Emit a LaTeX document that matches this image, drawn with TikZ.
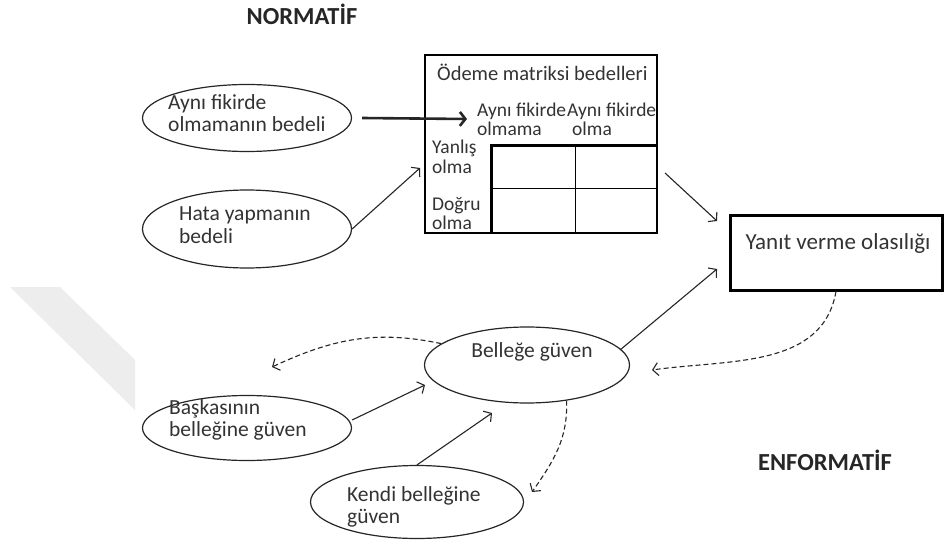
\documentclass[tikz,border=0pt]{standalone}
\usepackage{fontspec}
\setmainfont{Carlito}
\usetikzlibrary{arrows.meta,shapes.geometric}
\begin{document}
\begin{tikzpicture}[x=1pt,y=1pt,
  ell/.style={draw=black!85, ellipse, line width=1.2pt, inner sep=0pt},
  etxt/.style={inner sep=0pt, anchor=west, align=left, text=black!80, font=\fontsize{21.5}{22.5}\selectfont},
  mtxt/.style={inner sep=0pt, anchor=west, align=left, text=black!80, font=\fontsize{19.5}{19.5}\selectfont},
  arr/.style={-{Straight Barb[length=5.5pt,width=13pt]}, line width=1.1pt, draw=black!85},
  darr/.style={arr, dash pattern=on 5pt off 3pt},
  hdr/.style={inner sep=0pt, text=black!85, font=\bfseries\fontsize{24.5}{26}\selectfont}]
\useasboundingbox (0,0) rectangle (944,547);
\fill[white] (0,0) rectangle (944,547);
% watermark
\fill[black!7] (10,260) -- (60,260) -- (135,187) -- (135,137) -- cycle;
% headers
\node[hdr] (hn) at (302,533) {NORMATİF};
\node[hdr] (he) at (825,87) {ENFORMATİF};
% matrix
\node[draw, line width=2pt, minimum width=232pt, minimum height=178pt, inner sep=0pt] (mat) at (541,403) {};
\draw[line width=3pt] (491,314) -- (491,401) -- (657,401);
\draw[line width=1pt] (575,401) -- (575,314);
\draw[line width=1pt] (491,358) -- (657,358);
\node[mtxt, font=\fontsize{20.5}{20.5}\selectfont] (mt) at (437,475) {Ödeme matriksi bedelleri};
\node[mtxt] (mh1) at (477,427.5) {Aynı fikirde\\olmama};
\node[mtxt] (mh2) at (567,427.5) {Aynı fikirde\\\hspace*{5pt}olma};
\node[mtxt] (ml1) at (432,390) {Yanlış\\olma};
\node[mtxt] (ml2) at (432,333.5) {Doğru\\olma};
% ellipses
\node[ell, minimum width=209pt, minimum height=67pt] (e1) at (247,429) {};
\node[etxt] (e1t) at (168,434) {Aynı fikirde\\olmamanın bedeli};
\node[ell, minimum width=209pt, minimum height=78pt] (e2) at (247,318) {};
\node[etxt] (e2t) at (179,322) {Hata yapmanın\\bedeli};
\node[ell, minimum width=209pt, minimum height=65pt] (e3) at (247,119) {};
\node[etxt] (e3t) at (169,127) {Başkasının\\belleğine güven};
\node[ell, minimum width=213pt, minimum height=73pt] (e4) at (417,45) {};
\node[etxt] (e4t) at (347,40) {Kendi belleğine\\güven};
\node[ell, minimum width=205pt, minimum height=76pt] (bel) at (527,182) {};
\node[inner sep=0pt, text=black!80, font=\fontsize{21.5}{22.5}\selectfont] (belt) at (532,195) {Belleğe güven};
% response box
\node[draw, line width=3pt, minimum width=212pt, minimum height=75pt, inner sep=0pt] (yan) at (836,294.5) {};
\node[inner sep=0pt, text=black!80, font=\fontsize{23}{24}\selectfont] (yant) at (838,304) {Yanıt verme olasılığı};
% free ends
\coordinate (t1) at (467,428);
\coordinate (t2) at (420,379);
\coordinate (m1) at (665,374);
\coordinate (m2) at (717,326);
\coordinate (b1) at (620,197);
\coordinate (y1) at (717,278);
\coordinate (c3) at (425,162);
\coordinate (c4) at (492,134);
\coordinate (d1) at (652,177);
\coordinate (d2) at (272,180);
\coordinate (d3) at (532,55);
% connectors
\draw[arr, line width=2.6pt, -{Straight Barb[length=5.5pt,width=14pt]}] ([xshift=10pt]e1.east) -- (t1);
\draw[arr] (e2.east) -- (t2);
\draw[arr] (m1) -- (m2);
\draw[arr] (b1) -- (y1);
\draw[arr] ([yshift=8pt]e3.east) -- (c3);
\draw[arr] (e4.north) -- (c4);
\draw[darr] (yan.south) to[out=-100,in=8] (d1);
\draw[darr] (bel.166) to[out=168,in=25] (d2);
\draw[darr] (bel.-42) to[out=-88,in=55] (d3);
\end{tikzpicture}
\end{document}
